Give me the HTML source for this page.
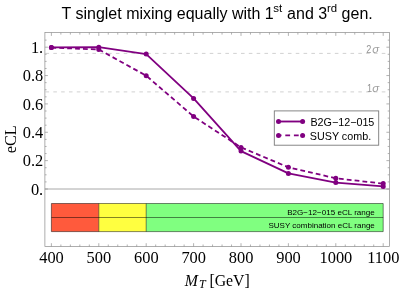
<!DOCTYPE html><html><head><meta charset="utf-8"><style>html,body{margin:0;padding:0;background:#fff;overflow:hidden}svg{display:block;will-change:transform;opacity:0.999}text{font-family:"Liberation Sans",sans-serif;fill:#000}.s{font-family:"Liberation Serif",serif}</style></head><body>
<svg width="399" height="290" viewBox="0 0 399 290">
<rect width="399" height="290" fill="#fff"/>
<line x1="45.5" x2="389.4" y1="53.4" y2="53.4" stroke="#d2d2d2" stroke-width="1" stroke-dasharray="3.6,4.22"/>
<line x1="45.5" x2="389.4" y1="91.9" y2="91.9" stroke="#d2d2d2" stroke-width="1" stroke-dasharray="3.6,4.22"/>
<line x1="44.9" x2="389.4" y1="189.0" y2="189.0" stroke="#a8a8a8" stroke-width="1"/>
<path d="M51.40 32.6v3.3M51.40 246.5v-3.3M60.88 32.6v2.0M60.88 246.5v-2.0M70.36 32.6v2.0M70.36 246.5v-2.0M79.84 32.6v2.0M79.84 246.5v-2.0M89.32 32.6v2.0M89.32 246.5v-2.0M98.80 32.6v3.3M98.80 246.5v-3.3M108.28 32.6v2.0M108.28 246.5v-2.0M117.76 32.6v2.0M117.76 246.5v-2.0M127.24 32.6v2.0M127.24 246.5v-2.0M136.72 32.6v2.0M136.72 246.5v-2.0M146.20 32.6v3.3M146.20 246.5v-3.3M155.68 32.6v2.0M155.68 246.5v-2.0M165.16 32.6v2.0M165.16 246.5v-2.0M174.64 32.6v2.0M174.64 246.5v-2.0M184.12 32.6v2.0M184.12 246.5v-2.0M193.60 32.6v3.3M193.60 246.5v-3.3M203.08 32.6v2.0M203.08 246.5v-2.0M212.56 32.6v2.0M212.56 246.5v-2.0M222.04 32.6v2.0M222.04 246.5v-2.0M231.52 32.6v2.0M231.52 246.5v-2.0M241.00 32.6v3.3M241.00 246.5v-3.3M250.48 32.6v2.0M250.48 246.5v-2.0M259.96 32.6v2.0M259.96 246.5v-2.0M269.44 32.6v2.0M269.44 246.5v-2.0M278.92 32.6v2.0M278.92 246.5v-2.0M288.40 32.6v3.3M288.40 246.5v-3.3M297.88 32.6v2.0M297.88 246.5v-2.0M307.36 32.6v2.0M307.36 246.5v-2.0M316.84 32.6v2.0M316.84 246.5v-2.0M326.32 32.6v2.0M326.32 246.5v-2.0M335.80 32.6v3.3M335.80 246.5v-3.3M345.28 32.6v2.0M345.28 246.5v-2.0M354.76 32.6v2.0M354.76 246.5v-2.0M364.24 32.6v2.0M364.24 246.5v-2.0M373.72 32.6v2.0M373.72 246.5v-2.0M383.20 32.6v3.3M383.20 246.5v-3.3M44.9 189.00h3.0M389.4 189.00h-3.0M44.9 181.91h1.7M389.4 181.91h-1.7M44.9 174.82h1.7M389.4 174.82h-1.7M44.9 167.73h1.7M389.4 167.73h-1.7M44.9 160.64h3.0M389.4 160.64h-3.0M44.9 153.55h1.7M389.4 153.55h-1.7M44.9 146.46h1.7M389.4 146.46h-1.7M44.9 139.37h1.7M389.4 139.37h-1.7M44.9 132.28h3.0M389.4 132.28h-3.0M44.9 125.19h1.7M389.4 125.19h-1.7M44.9 118.10h1.7M389.4 118.10h-1.7M44.9 111.01h1.7M389.4 111.01h-1.7M44.9 103.92h3.0M389.4 103.92h-3.0M44.9 96.83h1.7M389.4 96.83h-1.7M44.9 89.74h1.7M389.4 89.74h-1.7M44.9 82.65h1.7M389.4 82.65h-1.7M44.9 75.56h3.0M389.4 75.56h-3.0M44.9 68.47h1.7M389.4 68.47h-1.7M44.9 61.38h1.7M389.4 61.38h-1.7M44.9 54.29h1.7M389.4 54.29h-1.7M44.9 47.20h3.0M389.4 47.20h-3.0M44.9 40.11h1.7M389.4 40.11h-1.7" stroke="#8a8a8a" stroke-width="0.65" fill="none"/>
<rect x="44.9" y="32.6" width="344.5" height="213.9" fill="none" stroke="#8a8a8a" stroke-width="0.7"/>
<rect x="51.40" y="203.5" width="47.40" height="28.099999999999994" fill="#ff5a3c"/>
<rect x="98.80" y="203.5" width="47.40" height="28.099999999999994" fill="#ffff40"/>
<rect x="146.20" y="203.5" width="237.00" height="28.099999999999994" fill="#80ff80"/>
<path d="M51.40 203.5H383.2V231.6H51.40ZM51.40 217.5H383.2M98.80 203.5V231.6M146.20 203.5V231.6" stroke="#000" stroke-opacity="0.75" stroke-width="0.65" fill="none"/>
<text x="374.8" y="214.65" font-size="8.07" text-anchor="end">B2G−12−015 eCL range</text>
<text x="374.8" y="228.4" font-size="8" text-anchor="end">SUSY combination eCL range</text>
<polyline points="51.40,47.4 98.80,47.2 146.20,54.1 193.60,98.4 241.00,151.1 288.40,173.4 335.80,182.6 383.20,186.4" fill="none" stroke="#800080" stroke-width="1.8" stroke-linejoin="round"/>
<polyline points="51.40,47.6 98.80,49.5 146.20,75.7 193.60,116.5 241.00,147.4 288.40,167.3 335.80,178.3 383.20,183.6" fill="none" stroke="#800080" stroke-width="1.8" stroke-dasharray="4.8,3.1" stroke-linejoin="round"/>
<circle cx="51.40" cy="47.4" r="2.5" fill="#800080"/>
<circle cx="51.40" cy="47.6" r="2.5" fill="#800080"/>
<circle cx="98.80" cy="47.2" r="2.5" fill="#800080"/>
<circle cx="98.80" cy="49.5" r="2.5" fill="#800080"/>
<circle cx="146.20" cy="54.1" r="2.5" fill="#800080"/>
<circle cx="146.20" cy="75.7" r="2.5" fill="#800080"/>
<circle cx="193.60" cy="98.4" r="2.5" fill="#800080"/>
<circle cx="193.60" cy="116.5" r="2.5" fill="#800080"/>
<circle cx="241.00" cy="151.1" r="2.5" fill="#800080"/>
<circle cx="241.00" cy="147.4" r="2.5" fill="#800080"/>
<circle cx="288.40" cy="173.4" r="2.5" fill="#800080"/>
<circle cx="288.40" cy="167.3" r="2.5" fill="#800080"/>
<circle cx="335.80" cy="182.6" r="2.5" fill="#800080"/>
<circle cx="335.80" cy="178.3" r="2.5" fill="#800080"/>
<circle cx="383.20" cy="186.4" r="2.5" fill="#800080"/>
<circle cx="383.20" cy="183.6" r="2.5" fill="#800080"/>
<text transform="translate(366.3,53.1) scale(0.88,1)" font-size="10.4" style="fill:#949494">2</text>
<text transform="translate(372.3,53.1) scale(1.12,1)" font-size="10.2" font-style="italic" style="fill:#9e9e9e">σ</text>
<text transform="translate(367.0,91.8) scale(0.88,1)" font-size="10.4" style="fill:#949494">1</text>
<text transform="translate(372.3,91.8) scale(1.12,1)" font-size="10.2" font-style="italic" style="fill:#9e9e9e">σ</text>
<rect x="274.3" y="110.9" width="104.4" height="34.3" fill="#fff" stroke="#7a7a7a" stroke-width="0.9"/>
<line x1="278.6" x2="302.6" y1="121.5" y2="121.5" stroke="#800080" stroke-width="1.85"/>
<line x1="278.6" x2="302.6" y1="135.4" y2="135.4" stroke="#800080" stroke-width="1.85" stroke-dasharray="4.8,3.8" stroke-dashoffset="1.9"/>
<circle cx="278.5" cy="121.5" r="2.5" fill="#800080"/><circle cx="302.6" cy="121.5" r="2.5" fill="#800080"/>
<circle cx="278.5" cy="135.4" r="2.5" fill="#800080"/><circle cx="302.6" cy="135.4" r="2.5" fill="#800080"/>
<text x="310.4" y="125.6" font-size="10.75">B2G−12−015</text>
<text x="309.8" y="140.1" font-size="10.75">SUSY comb.</text>
<text y="19.1" font-size="16"><tspan x="61.5">T singlet mixing equally with 1</tspan><tspan x="273.2" y="12.45" font-size="11.5">st</tspan><tspan x="287.1" y="19.1">and 3</tspan><tspan x="327.0" y="12.45" font-size="11.4">rd</tspan><tspan x="341.6" y="19.1">gen.</tspan></text>
<text class="s" x="51.50" y="262.95" font-size="16.4" text-anchor="middle">400</text>
<text class="s" x="98.90" y="262.95" font-size="16.4" text-anchor="middle">500</text>
<text class="s" x="146.30" y="262.95" font-size="16.4" text-anchor="middle">600</text>
<text class="s" x="193.70" y="262.95" font-size="16.4" text-anchor="middle">700</text>
<text class="s" x="241.10" y="262.95" font-size="16.4" text-anchor="middle">800</text>
<text class="s" x="288.50" y="262.95" font-size="16.4" text-anchor="middle">900</text>
<text class="s" x="335.90" y="262.95" font-size="16.4" text-anchor="middle">1000</text>
<text class="s" x="383.30" y="262.95" font-size="16.4" text-anchor="middle">1100</text>
<text class="s" x="43.2" y="52.95" font-size="16.4" text-anchor="end">1.</text>
<text class="s" x="43.2" y="81.31" font-size="16.4" text-anchor="end">0.8</text>
<text class="s" x="43.2" y="109.67" font-size="16.4" text-anchor="end">0.6</text>
<text class="s" x="43.2" y="138.03" font-size="16.4" text-anchor="end">0.4</text>
<text class="s" x="43.2" y="166.39" font-size="16.4" text-anchor="end">0.2</text>
<text class="s" x="43.2" y="195.25" font-size="16.4" text-anchor="end">0.</text>
<text class="s" font-size="16.3" text-anchor="middle" transform="translate(16.2,139.2) rotate(-90)">eCL</text>
<text class="s" y="285.9" font-size="15.8"><tspan x="184.8" font-style="italic">M</tspan><tspan x="199.0" y="288.0" font-style="italic" font-size="12">T</tspan><tspan x="209.4" y="286.15">[GeV]</tspan></text>
</svg></body></html>
